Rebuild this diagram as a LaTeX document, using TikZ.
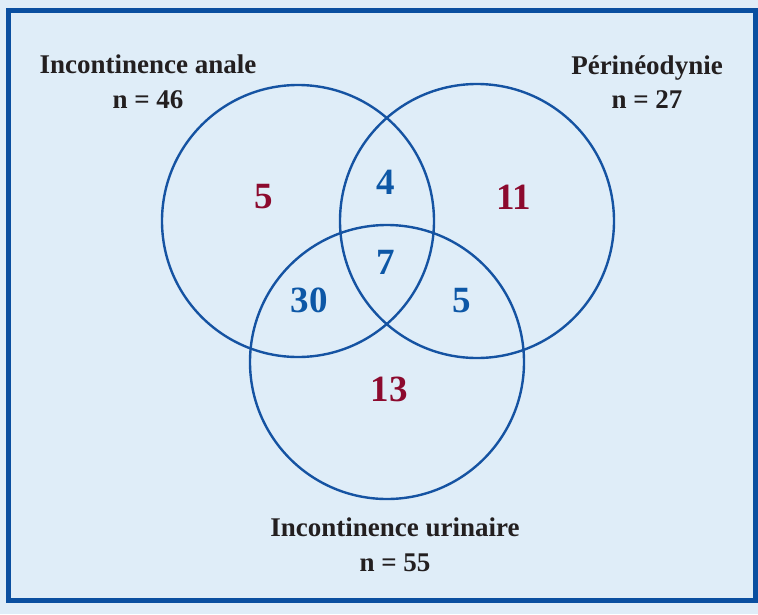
\documentclass[tikz,border=0pt]{standalone}
\usepackage{fontspec}
\setmainfont{Liberation Serif}
\definecolor{bgblue}{HTML}{DFEDF8}
\definecolor{frameblue}{HTML}{0A4FA0}
\definecolor{circblue}{HTML}{1553A2}
\definecolor{numblue}{HTML}{0D57A6}
\definecolor{numred}{HTML}{8C0A2E}
\definecolor{txtblack}{HTML}{231F20}
\tikzset{
  venn/.style={draw=circblue, line width=2.4pt},
  lab/.style={text=txtblack, font=\fontsize{27}{34.5}\selectfont\bfseries, align=center, inner sep=0pt},
  numb/.style={text=numblue, font=\fontsize{37}{40}\selectfont\bfseries, inner sep=0pt},
  numr/.style={text=numred, font=\fontsize{37}{40}\selectfont\bfseries, inner sep=0pt}
}
\begin{document}
\begin{tikzpicture}[x=1pt,y=-1pt]
\useasboundingbox (0,0) rectangle (758,614);
\fill[bgblue] (0,0) rectangle (758,614);
\draw[frameblue, line width=5pt, fill=bgblue] (8.5,10.5) rectangle (755,600);
\node[venn, circle, minimum size=272pt, inner sep=0pt] (ca) at (298,221) {};
\node[venn, circle, minimum size=274pt, inner sep=0pt] (cb) at (477,221) {};
\node[venn, circle, minimum size=274pt, inner sep=0pt] (cc) at (387,362) {};
\node[lab] (la) at (148,82) {Incontinence anale\\n = 46};
\node[lab] (lb) at (647,82) {Périnéodynie\\n = 27};
\node[lab] (lc) at (395,545) {Incontinence urinaire\\n = 55};
\node[numr] (n1) at (264,197) {5};
\node[numb] (n2) at (386,182) {4};
\node[numr] (n3) at (514,197) {11};
\node[numb] (n4) at (386,262) {7};
\node[numb] (n5) at (309,300) {30};
\node[numb] (n6) at (462,301) {5};
\node[numr] (n7) at (389,389) {13};
\end{tikzpicture}
\end{document}
